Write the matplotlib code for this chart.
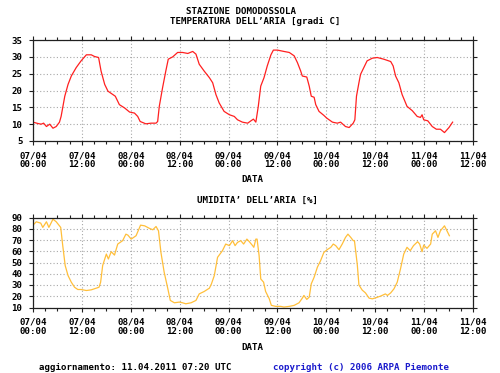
import numpy as np
import matplotlib
matplotlib.use("Agg")
import matplotlib.pyplot as plt
from matplotlib.ticker import MultipleLocator

# --------------------------------------------------
# Data (hours since 07/04 00:00)
# --------------------------------------------------
temp_hours = [0, 1.2, 2.0, 2.6, 3.3, 4.1, 4.9, 5.7, 6.5, 6.9, 7.8, 8.6, 9.4, 10.6,
              11.8, 13.1, 14.3, 15.1, 16.1, 16.7, 17.6, 18.4, 19.6, 20.2, 21.2,
              22.5, 23.7, 24.9, 25.7, 26.3, 27.7, 29.0, 30.2, 30.6, 31.0, 31.8,
              32.6, 33.2, 34.3, 35.5, 36.7, 38.0, 39.2, 40.0, 40.8, 42.0, 43.3,
              44.1, 44.9, 45.7, 46.9, 48.2, 49.4, 50.2, 51.4, 52.7, 53.5, 54.1,
              54.7, 55.3, 55.9, 56.7, 57.5, 58.4, 59.0, 60.0, 61.6, 62.9, 64.1,
              64.9, 65.7, 66.1, 67.2, 67.8, 68.3, 69.0, 69.4, 70.2, 71.4, 72.1,
              73.5, 74.7, 75.5, 76.7, 77.6, 78.6, 79.0, 79.4, 80.0, 80.4, 81.2,
              82.0, 83.3, 84.5, 86.1, 87.8, 88.4, 89.0, 89.8, 90.6, 91.8, 93.1,
              94.3, 95.1, 95.5, 95.9, 96.9, 98.0, 99.0, 100.0, 101.0, 102.1, 103.0]
temp_vals = [10.6, 10.2, 10.0, 10.3, 9.3, 10.0, 8.8, 9.3, 10.6, 12.3, 18.3, 21.8, 24.3, 26.8,
             28.8, 30.6, 30.6, 30.1, 29.8, 25.8, 21.8, 19.8, 18.8, 18.3, 15.8,
             14.8, 13.6, 13.3, 12.3, 10.8, 10.1, 10.3, 10.3, 10.8, 15.3, 20.8,
             25.8, 29.3, 30.0, 31.3, 31.3, 31.0, 31.6, 30.8, 27.8, 25.8, 23.8,
             22.3, 18.8, 16.3, 13.8, 12.8, 12.3, 11.3, 10.6, 10.3, 11.0, 11.5,
             10.6, 15.3, 21.3, 23.8, 27.3, 30.6, 32.0, 32.0, 31.6, 31.3, 30.3,
             28.3, 25.8, 24.3, 24.0, 21.3, 18.3, 18.0, 15.8, 13.8, 12.6, 11.8,
             10.6, 10.3, 10.6, 9.3, 9.0, 10.3, 11.3, 18.3, 22.3, 24.8, 26.8,
             28.8, 29.6, 29.8, 29.3, 28.6, 27.3, 24.3, 22.3, 18.8, 15.3, 14.0,
             12.3, 12.0, 12.8, 11.3, 11.0, 9.3, 8.5, 8.5, 7.5, 9.0, 10.6]

hum_hours = [0, 0.8, 1.9, 2.4, 3.3, 3.9, 4.9, 5.7, 6.8, 7.3, 7.9, 8.6, 9.4, 10.2,
             11.0, 11.8, 13.1, 14.3, 15.5, 16.2, 16.6, 17.1, 18.0, 18.5, 19.2,
             20.0, 20.8, 22.0, 22.8, 23.3, 24.1, 25.3, 26.4, 27.4, 28.6, 29.4,
             30.2, 30.8, 31.4, 32.2, 33.1, 33.7, 34.7, 35.9, 36.7, 37.5, 38.8,
             40.0, 40.8, 42.0, 43.3, 43.8, 44.5, 45.3, 46.5, 47.3, 48.2, 49.0,
             49.6, 50.2, 51.0, 51.7, 52.5, 53.1, 53.9, 54.2, 54.7, 55.0, 55.5,
             55.9, 56.6, 57.1, 58.0, 58.5, 59.6, 60.8, 61.6, 62.9, 64.1, 65.3,
             66.1, 66.5, 67.2, 67.8, 68.3, 69.0, 69.8, 70.6, 71.4, 72.2, 73.1,
             73.7, 74.3, 75.1, 75.9, 76.7, 77.3, 78.0, 78.6, 78.9, 79.6, 80.0,
             80.8, 81.6, 82.5, 83.3, 84.1, 85.3, 86.5, 87.0, 87.8, 88.6, 89.4,
             90.2, 91.0, 91.8, 92.6, 93.4, 94.4, 94.9, 95.5, 95.9, 96.7, 97.6,
             98.0, 98.8, 99.4, 100.0, 101.0, 101.6, 102.2]
hum_vals = [83.2, 86.2, 85.0, 81.2, 86.2, 81.2, 88.5, 86.2, 81.2, 65.0, 47.3, 38.4, 32.5, 28.0,
            26.0, 26.0, 25.1, 25.7, 27.2, 28.0, 32.5, 47.3, 57.5, 53.1, 59.6,
            56.6, 66.4, 69.4, 75.2, 74.3, 70.8, 73.8, 83.2, 82.6, 80.3, 79.1,
            82.0, 78.2, 59.0, 41.3, 26.6, 16.3, 14.2, 14.8, 14.2, 13.3, 14.2,
            16.3, 22.1, 24.2, 27.2, 31.0, 38.4, 54.6, 60.5, 66.4, 65.0, 69.4,
            65.0, 67.9, 69.4, 66.4, 70.8, 68.5, 65.0, 63.5, 70.8, 70.8, 56.1,
            35.4, 32.5, 24.2, 17.7, 11.9, 11.0, 11.0, 10.4, 11.0, 11.9, 14.2,
            18.3, 20.7, 17.2, 19.2, 31.0, 36.9, 45.8, 51.7, 59.0, 61.4, 63.5,
            66.4, 65.0, 61.4, 66.4, 72.3, 75.2, 72.3, 69.4, 69.4, 48.0, 30.0,
            25.5, 23.0, 18.3, 17.7, 18.6, 20.1, 22.1, 20.7, 23.0, 26.6, 32.5,
            44.3, 57.5, 63.5, 60.5, 65.0, 68.5, 66.4, 59.6, 65.5, 62.6, 66.4,
            75.2, 78.2, 72.3, 78.2, 82.6, 78.2, 73.8]

tick_hours = [0, 12, 24, 36, 48, 60, 72, 84, 96, 108]
tick_labels = ["07/04\n00:00", "07/04\n12:00", "08/04\n00:00", "08/04\n12:00",
               "09/04\n00:00", "09/04\n12:00", "10/04\n00:00", "10/04\n12:00",
               "11/04\n00:00", "11/04\n12:00"]

# --------------------------------------------------
# Style
# --------------------------------------------------
plt.rcParams["font.family"] = ["DejaVu Sans Mono"]
plt.rcParams["font.weight"] = "bold"
plt.rcParams["font.size"] = 6.6

W, H = 500, 373
fig = plt.figure(figsize=(5, 3.73), dpi=100)


def px_box(left, top, right, bottom):
    return [left / W, 1 - bottom / H, (right - left) / W, (bottom - top) / H]


def style_axes(ax):
    ax.set_xlim(0, 108)
    ax.set_xticks(tick_hours)
    ax.set_xticklabels(tick_labels, linespacing=1.0)
    ax.xaxis.set_minor_locator(MultipleLocator(3))
    ax.grid(True, which="major", color="#a8a8a8", linestyle=(0, (1, 2)), linewidth=0.8)
    ax.tick_params(which="both", direction="out", top=True, right=True,
                   labeltop=False, labelright=False, width=0.8, color="#202020")
    ax.tick_params(which="major", length=3, pad=4.5)
    ax.tick_params(which="minor", length=2)
    for s in ax.spines.values():
        s.set_linewidth(0.9)
        s.set_color("#202020")


# --------------------------------------------------
# Temperature
# --------------------------------------------------
ax1 = fig.add_axes(px_box(33, 40, 473, 141))
ax1.plot(temp_hours, temp_vals, color="#ff2020", linewidth=0.9)
ax1.set_ylim(5, 35)
ax1.set_yticks([5, 10, 15, 20, 25, 30, 35])
style_axes(ax1)

# --------------------------------------------------
# Humidity
# --------------------------------------------------
ax2 = fig.add_axes(px_box(33, 217.5, 473, 307.5))
ax2.plot(hum_hours, hum_vals, color="#ffbf3a", linewidth=0.9)
ax2.set_ylim(10, 90)
ax2.set_yticks([10, 20, 30, 40, 50, 60, 70, 80, 90])
style_axes(ax2)


def ftext(x, y, s, **kw):
    fig.text(x / W, 1 - y / H, s, va="center", ha="left", **kw)


ftext(186, 12, "STAZIONE DOMODOSSOLA")
ftext(170, 22, "TEMPERATURA DELL\u2019ARIA [gradi C]")
ftext(241, 180, "DATA")
ftext(197, 200, "UMIDITA\u2019 DELL\u2019ARIA [%]")
ftext(241, 347, "DATA")
ftext(39, 368, "aggiornamento: 11.04.2011 07:20 UTC")
ftext(273, 368, "copyright (c) 2006 ARPA Piemonte", color="#1a1acc")

plt.savefig("out.png", dpi=100)
plt.close()
